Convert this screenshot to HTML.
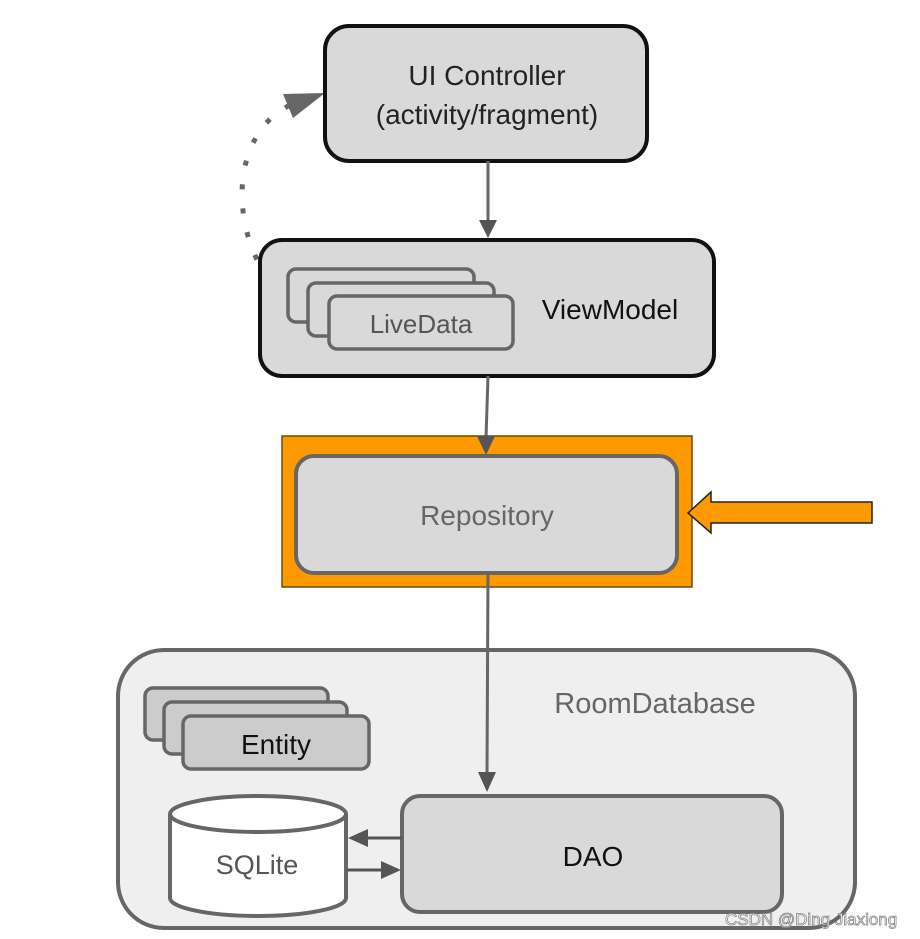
<!DOCTYPE html>
<html><head><style>html,body{margin:0;padding:0;background:#fff}svg{display:block}text{font-family:"Liberation Sans",Arial,sans-serif}</style></head><body>
<svg width="920" height="939" viewBox="0 0 920 939" xmlns="http://www.w3.org/2000/svg">
<rect width="920" height="939" fill="#fff"/>
<path d="M285,295 C250,270 230,200 250,150 C258,130 270,115 292,104" fill="none" stroke="#666" stroke-width="5" stroke-dasharray="0.1 24" stroke-linecap="square"/>
<polygon points="325,93 283,94 293,118" fill="#666"/>
<rect x="325" y="26" width="322" height="135" rx="24" fill="#d9d9d9" stroke="#111" stroke-width="4"/>
<text x="487" y="85" font-size="28" text-anchor="middle" fill="#222">UI Controller</text>
<text x="487" y="124" font-size="28" text-anchor="middle" fill="#222">(activity/fragment)</text>
<line x1="488" y1="161" x2="488" y2="222" stroke="#666" stroke-width="3"/>
<polygon points="479,220 497,220 488,238" fill="#555"/>
<rect x="260" y="240" width="454" height="136" rx="22" fill="#d9d9d9" stroke="#111" stroke-width="4"/>
<rect x="288" y="269" width="186" height="53" rx="8" fill="#d9d9d9" stroke="#666" stroke-width="3.5"/>
<rect x="308" y="283" width="186" height="53" rx="8" fill="#d9d9d9" stroke="#666" stroke-width="3.5"/>
<rect x="329" y="296" width="184" height="53" rx="8" fill="#d9d9d9" stroke="#666" stroke-width="3.5"/>
<text x="421" y="333" font-size="26" text-anchor="middle" fill="#555">LiveData</text>
<text x="610" y="319" font-size="28" text-anchor="middle" fill="#111">ViewModel</text>
<line x1="488" y1="376" x2="486" y2="438" stroke="#666" stroke-width="3"/>
<rect x="282" y="436" width="410" height="151" fill="#ff9900" stroke="#6b4a10" stroke-width="1.5"/>
<polygon points="477,436 495,436 486,455" fill="#555"/>
<rect x="296" y="456" width="381" height="117" rx="18" fill="#d9d9d9" stroke="#666" stroke-width="4"/>
<text x="487" y="525" font-size="28" text-anchor="middle" fill="#666">Repository</text>
<polygon points="688,513 711,492 711,502 872,502 872,523 711,523 711,533" fill="#ff9900" stroke="#222" stroke-width="1.5"/>
<rect x="118" y="650" width="737" height="278" rx="46" fill="#efefef" stroke="#666" stroke-width="4"/>
<line x1="488" y1="573" x2="487" y2="775" stroke="#666" stroke-width="3"/>
<polygon points="478,772 496,772 487,792" fill="#555"/>
<text x="655" y="713" font-size="29" text-anchor="middle" fill="#666">RoomDatabase</text>
<rect x="145" y="688" width="183" height="52" rx="8" fill="#cccccc" stroke="#666" stroke-width="3.5"/>
<rect x="164" y="702" width="183" height="52" rx="8" fill="#cccccc" stroke="#666" stroke-width="3.5"/>
<rect x="183" y="716" width="186" height="53" rx="8" fill="#cccccc" stroke="#666" stroke-width="3.5"/>
<text x="276" y="754" font-size="28" text-anchor="middle" fill="#111">Entity</text>
<path d="M170,814 L170,898 A88,18 0 0 0 346,898 L346,814" fill="#fff" stroke="#666" stroke-width="4"/>
<ellipse cx="258" cy="814" rx="88" ry="18" fill="#fff" stroke="#666" stroke-width="4"/>
<text x="257" y="874" font-size="27" text-anchor="middle" fill="#555">SQLite</text>
<rect x="402" y="796" width="380" height="116" rx="18" fill="#d9d9d9" stroke="#666" stroke-width="4"/>
<text x="593" y="866" font-size="28" text-anchor="middle" fill="#111">DAO</text>
<line x1="402" y1="838" x2="365" y2="838" stroke="#555" stroke-width="3"/>
<polygon points="348,838 368,829 368,847" fill="#555"/>
<line x1="347" y1="870" x2="384" y2="870" stroke="#555" stroke-width="3"/>
<polygon points="401,870 381,861 381,879" fill="#555"/>
<text x="725" y="925" font-size="17" fill="#fff" stroke="#888" stroke-width="0.8">CSDN @Ding Jiaxiong</text>
</svg>
</body></html>
